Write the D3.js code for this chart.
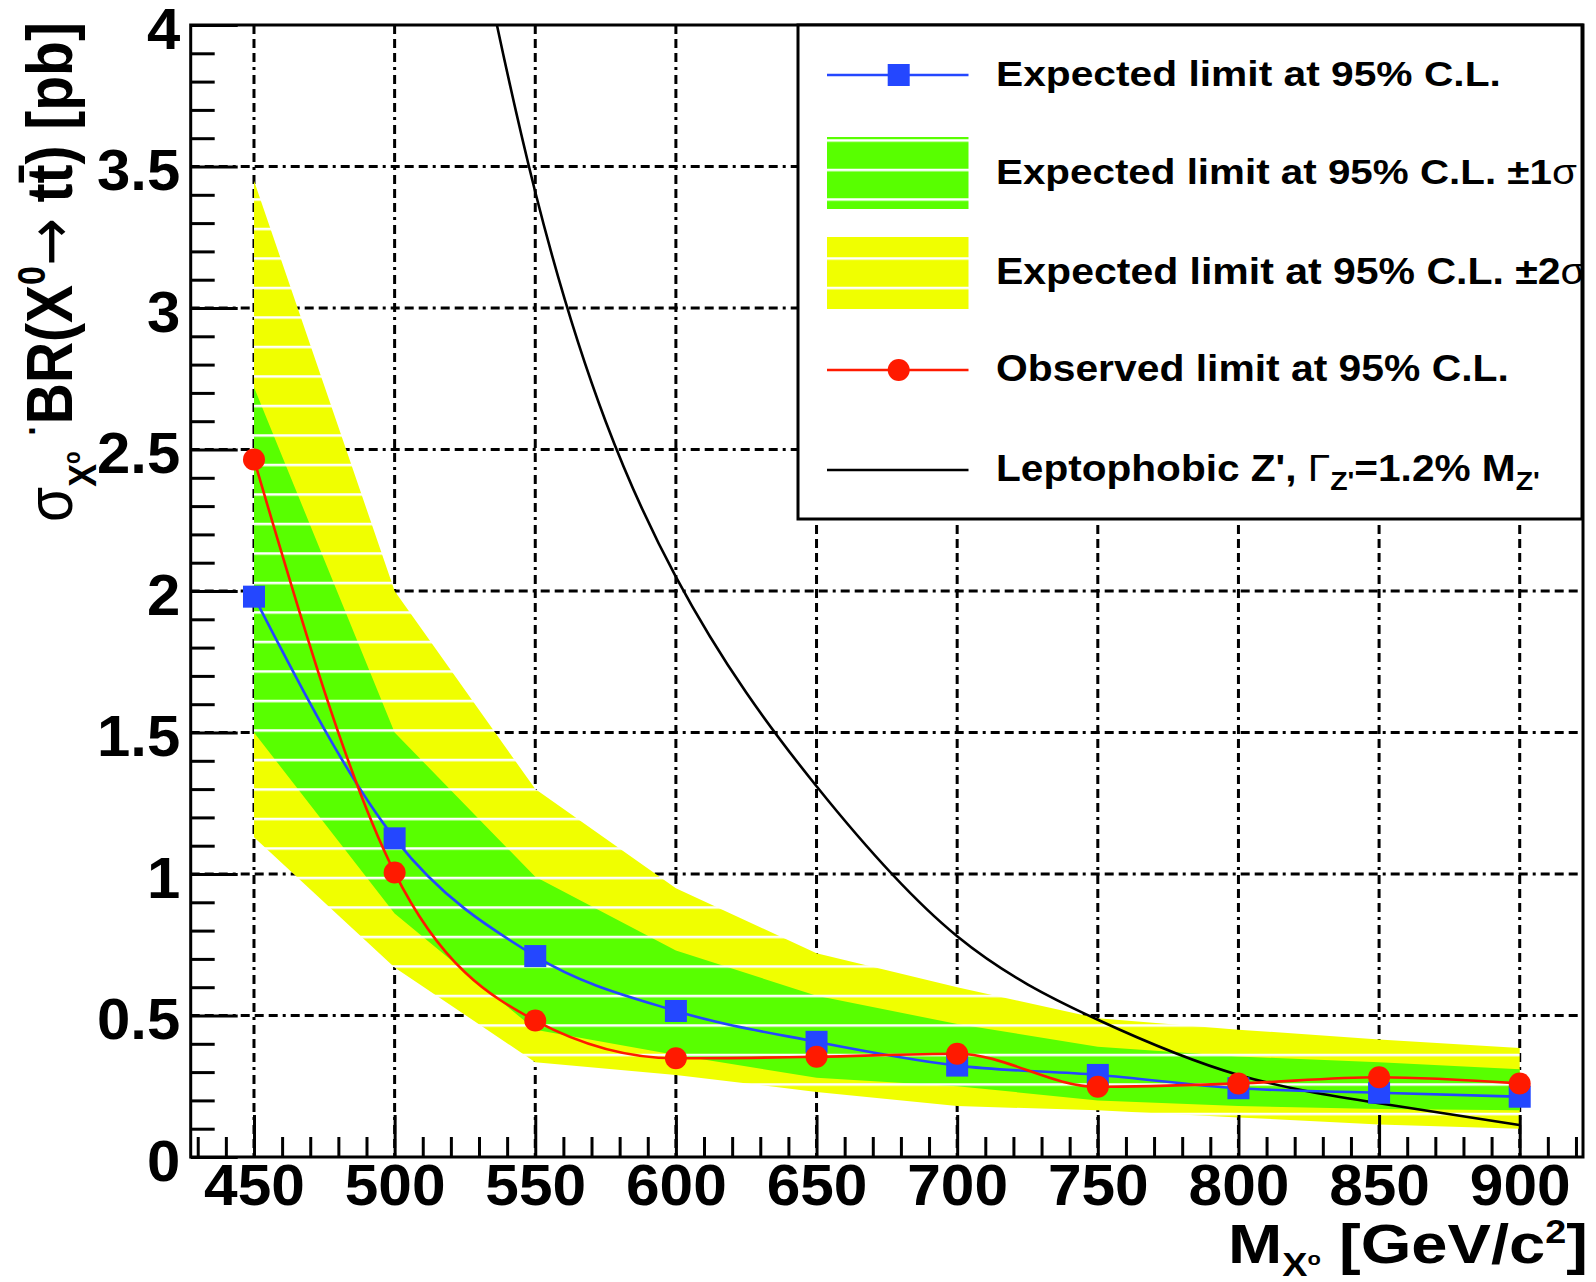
<!DOCTYPE html>
<html><head><meta charset="utf-8">
<script src="https://cdn.jsdelivr.net/npm/d3@7"></script>
<style>
body{margin:0;background:#fff}
svg{display:block}
text{font-family:"Liberation Sans",Arial,Helvetica,sans-serif;font-weight:bold;fill:#000}
</style>
</head><body>
<svg id="c" width="1596" height="1282"></svg>
<script>
// ---------------- data ----------------
const masses    = [450, 500, 550, 600, 650, 700, 750, 800, 850, 900];
const expected  = [1.98, 1.126, 0.71, 0.516, 0.407, 0.323, 0.29, 0.243, 0.227, 0.213];
const observed  = [2.465, 1.005, 0.482, 0.349, 0.354, 0.365, 0.248, 0.26, 0.282, 0.26];
const sig1Up    = [2.72, 1.50, 0.99, 0.73, 0.57, 0.47, 0.39, 0.355, 0.335, 0.31];
const sig1Down  = [1.50, 0.86, 0.45, 0.36, 0.28, 0.25, 0.20, 0.18, 0.17, 0.165];
const sig2Up    = [3.45, 2.00, 1.30, 0.95, 0.72, 0.60, 0.49, 0.45, 0.415, 0.385];
const sig2Down  = [1.13, 0.67, 0.335, 0.29, 0.23, 0.18, 0.165, 0.14, 0.115, 0.10];
const zpMasses  = [500, 550, 600, 650, 700, 750, 800, 850, 900];
const zpXsec    = [5.9, 3.41, 2.05, 1.31, 0.78, 0.485, 0.29, 0.19, 0.113];

const xMajorTicks = [450, 500, 550, 600, 650, 700, 750, 800, 850, 900];
const xTickLabels = ["450","500","550","600","650","700","750","800","850","900"];
const yMajorTicks = [0, 0.5, 1, 1.5, 2, 2.5, 3, 3.5, 4];
const yTickLabels = ["0","0.5","1","1.5","2","2.5","3","3.5","4"];
const xMinorTicks = d3.range(430, 925, 10).filter(v => v % 50 !== 0);
const yMinorTicks = d3.range(1, 40).map(v => v / 10).filter(v => Math.round(v * 10) % 5 !== 0);

const legendLabels = [
  "Expected limit at 95% C.L.",
  "Expected limit at 95% C.L. ±1σ",
  "Expected limit at 95% C.L. ±2σ",
  "Observed limit at 95% C.L.",
  "Leptophobic Z', Γ_{Z'}=1.2% M_{Z'}"
];
const xTitle = "M_{X^{o}} [GeV/c^{2}]";
const yTitle = "σ_{X^{o}} ^{·}BR(X^{0}→ tt̄) [pb]";

// ---------------- colours ----------------
const C_BLUE = "#2447ff", C_RED = "#ff1a00", C_GREEN = "#58ff00", C_YELLOW = "#f0ff00";

// ---------------- layout ----------------
const L = 190.7, R = 1583, T = 25, B = 1157;
const svg = d3.select("#c");
const x = d3.scaleLinear().domain([427.5, 922.5]).range([L, R]);
const y = d3.scaleLinear().domain([0, 4]).range([B, T]);

const defs = svg.append("defs");
defs.append("clipPath").attr("id", "clip").append("rect")
  .attr("x", L).attr("y", T).attr("width", R - L).attr("height", B - T);
function stripe(id, color) {
  const p = defs.append("pattern").attr("id", id).attr("patternUnits", "userSpaceOnUse")
    .attr("x", 0).attr("y", 21.25).attr("width", 20).attr("height", 29.5);
  p.append("rect").attr("width", 20).attr("height", 29.5).attr("fill", color);
  p.append("rect").attr("width", 20).attr("height", 2.5).attr("fill", "#fff");
}
stripe("pY", C_YELLOW);
stripe("pG", C_GREEN);

// rich text helper (handles _{ } and ^{ })
function parseTex(s, o) {
  const out = [];
  function rec(str, shift, scale) {
    let i = 0, buf = "";
    const flush = () => { if (buf) { out.push({ t: buf, shift, scale }); buf = ""; } };
    while (i < str.length) {
      const c = str[i];
      if ((c === "_" || c === "^") && str[i + 1] === "{") {
        flush();
        let depth = 0, j = i + 1;
        for (; j < str.length; j++) {
          if (str[j] === "{") depth++;
          else if (str[j] === "}") { depth--; if (depth === 0) break; }
        }
        rec(str.slice(i + 2, j), shift + (c === "_" ? o.sub * scale : -o.sup * scale), scale * o.scale);
        i = j + 1;
      } else { buf += c; i++; }
    }
    flush();
  }
  rec(s, 0, 1);
  const res = [];
  out.forEach(seg => {
    seg.t.split(/([σΓ→])/).filter(p => p.length).forEach(p =>
      res.push({ t: p, shift: seg.shift, scale: seg.scale,
                 greek: /[σΓ]/.test(p), arrow: p === "→" }));
  });
  return res;
}
function richText(g, str, size, anchor, opts) {
  const o = Object.assign({ sub: 0.38, sup: 0.42, scale: 0.6 }, opts || {});
  const t = g.append("text").attr("font-size", size).attr("text-anchor", anchor || "start");
  let prev = 0;
  parseTex(str, o).forEach(seg => {
    const ts = t.append("tspan").attr("font-size", size * seg.scale)
      .attr("font-weight", seg.greek ? "normal" : "bold")
      .attr("dy", (seg.shift - prev) * size).text(seg.t);
    if (seg.arrow) ts.attr("font-family", "'DejaVu Sans', sans-serif").attr("font-weight", "normal");
    prev = seg.shift;
  });
  return t;
}
function fitGroup(g, text, tx, ty, target, extra) {
  const w = text.node().getBBox().width;
  g.attr("transform", `translate(${tx},${ty}) ${extra || ""} scale(${target / w},1)`);
}

// ---------------- grid ----------------
const grid = svg.append("g").attr("stroke", "#000").attr("stroke-width", 3)
  .attr("stroke-dasharray", "9,5,9,5,9,5,3,5");
grid.selectAll("line.v").data(xMajorTicks).join("line").attr("class", "v")
  .attr("x1", d => x(d)).attr("x2", d => x(d)).attr("y1", T).attr("y2", B);
grid.selectAll("line.h").data(yMajorTicks.filter(v => v > 0 && v < 4)).join("line").attr("class", "h")
  .attr("x1", L).attr("x2", R).attr("y1", d => y(d)).attr("y2", d => y(d));

// ---------------- bands & curves ----------------
const bandData = masses.map((m, i) => ({ m, lo1: sig1Down[i], hi1: sig1Up[i], lo2: sig2Down[i], hi2: sig2Up[i] }));
const plot = svg.append("g").attr("clip-path", "url(#clip)");
plot.append("path").datum(bandData)
  .attr("d", d3.area().x(d => x(d.m)).y0(d => y(d.lo2)).y1(d => y(d.hi2)))
  .attr("fill", "url(#pY)");
plot.append("path").datum(bandData)
  .attr("d", d3.area().x(d => x(d.m)).y0(d => y(d.lo1)).y1(d => y(d.hi1)))
  .attr("fill", "url(#pG)");

const smooth = d3.line().x(d => x(d[0])).y(d => y(d[1])).curve(d3.curveMonotoneX);
const smoothZ = d3.line().x(d => x(d[0])).y(d => y(d[1])).curve(d3.curveNatural);
plot.append("path").datum(zpMasses.map((m, i) => [m, zpXsec[i]]))
  .attr("d", smoothZ).attr("fill", "none").attr("stroke", "#000").attr("stroke-width", 2.6);
plot.append("path").datum(masses.map((m, i) => [m, expected[i]]))
  .attr("d", smooth).attr("fill", "none").attr("stroke", C_BLUE).attr("stroke-width", 2.6);
plot.selectAll("rect.exp").data(masses.map((m, i) => [m, expected[i]])).join("rect").attr("class", "exp")
  .attr("x", d => x(d[0]) - 11).attr("y", d => y(d[1]) - 11).attr("width", 22).attr("height", 22)
  .attr("fill", C_BLUE);
plot.append("path").datum(masses.map((m, i) => [m, observed[i]]))
  .attr("d", smooth).attr("fill", "none").attr("stroke", C_RED).attr("stroke-width", 2.6);
plot.selectAll("circle.obs").data(masses.map((m, i) => [m, observed[i]])).join("circle").attr("class", "obs")
  .attr("cx", d => x(d[0])).attr("cy", d => y(d[1])).attr("r", 11).attr("fill", C_RED);

// ---------------- axes ----------------
function styleAxis(g, sx) {
  g.select(".domain").remove();
  g.attr("font-size", 57).attr("font-family", null);
  g.selectAll("line").attr("stroke", "#000").attr("stroke-width", 3);
  g.selectAll("text").attr("fill", "#000").attr("font-weight", "bold")
    .attr("transform", `scale(${sx},1)`);
}
const gyMin = svg.append("g").attr("transform", `translate(${L},0)`)
  .call(d3.axisLeft(y).tickValues(yMinorTicks).tickSize(-24).tickSizeOuter(0).tickFormat(""));
styleAxis(gyMin, 1);
const gyMaj = svg.append("g").attr("transform", `translate(${L},0)`)
  .call(d3.axisLeft(y).tickValues(yMajorTicks).tickSize(-47).tickSizeOuter(0).tickPadding(10)
    .tickFormat((d, i) => yTickLabels[i]));
styleAxis(gyMaj, 1.05);
gyMaj.selectAll("text").attr("dy", "0.41em");
const gxMin = svg.append("g").attr("transform", `translate(0,${B})`)
  .call(d3.axisBottom(x).tickValues(xMinorTicks).tickSize(-20).tickSizeOuter(0).tickFormat(""));
styleAxis(gxMin, 1);
const gxMaj = svg.append("g").attr("transform", `translate(0,${B})`)
  .call(d3.axisBottom(x).tickValues(xMajorTicks).tickSize(-42).tickSizeOuter(0).tickPadding(8)
    .tickFormat((d, i) => xTickLabels[i]));
styleAxis(gxMaj, 1.06);

// frame
svg.append("rect").attr("x", L).attr("y", T).attr("width", R - L).attr("height", B - T)
  .attr("fill", "none").attr("stroke", "#000").attr("stroke-width", 3);

// axis titles
const gxt = svg.append("g");
const xt = richText(gxt, xTitle, 56, "end", { sub: 0.24, sup: 0.36, scale: 0.58 });
fitGroup(gxt, xt, 1588, 1263, 360);
const gyt = svg.append("g");
const yt = richText(gyt, yTitle, 64, "start", { sub: 0.38, sup: 0.42, scale: 0.6 });
fitGroup(gyt, yt, 72, 522, 500, "rotate(-90)");

// ---------------- legend ----------------
const LX0 = 798, LX1 = 1582, LY0 = 25, LY1 = 519;
defs.append("clipPath").attr("id", "lclip").append("rect")
  .attr("x", LX0).attr("y", LY0).attr("width", LX1 - LX0).attr("height", LY1 - LY0);
const lg = svg.append("g");
lg.append("rect").attr("x", LX0).attr("y", LY0).attr("width", LX1 - LX0).attr("height", LY1 - LY0)
  .attr("fill", "#fff");
const lgi = lg.append("g").attr("clip-path", "url(#lclip)");
const rows = [75, 173, 273, 370, 470];
const targets = [505, 581, 590, 513, 544];
const sx0 = 827, sx1 = 968.5, smid = 898.7;
lgi.append("line").attr("x1", sx0).attr("x2", sx1).attr("y1", rows[0]).attr("y2", rows[0])
  .attr("stroke", C_BLUE).attr("stroke-width", 2.7);
lgi.append("rect").attr("x", smid - 11).attr("y", rows[0] - 11).attr("width", 22).attr("height", 22).attr("fill", C_BLUE);
lgi.append("rect").attr("x", sx0).attr("y", rows[1] - 36).attr("width", sx1 - sx0).attr("height", 72).attr("fill", "url(#pG)");
lgi.append("rect").attr("x", sx0).attr("y", rows[2] - 36).attr("width", sx1 - sx0).attr("height", 72).attr("fill", "url(#pY)");
lgi.append("line").attr("x1", sx0).attr("x2", sx1).attr("y1", rows[3]).attr("y2", rows[3])
  .attr("stroke", C_RED).attr("stroke-width", 2.7);
lgi.append("circle").attr("cx", smid).attr("cy", rows[3]).attr("r", 11).attr("fill", C_RED);
lgi.append("line").attr("x1", sx0).attr("x2", sx1).attr("y1", rows[4]).attr("y2", rows[4])
  .attr("stroke", "#000").attr("stroke-width", 2.7);
legendLabels.forEach((lab, i) => {
  const g = lgi.append("g");
  const t = richText(g, lab, 36, "start", { sub: 0.25, sup: 0.4, scale: 0.7 });
  fitGroup(g, t, 996, rows[i] + 11, targets[i]);
});
lg.append("rect").attr("x", LX0).attr("y", LY0).attr("width", LX1 - LX0).attr("height", LY1 - LY0)
  .attr("fill", "none").attr("stroke", "#000").attr("stroke-width", 3);
</script>
</body></html>
